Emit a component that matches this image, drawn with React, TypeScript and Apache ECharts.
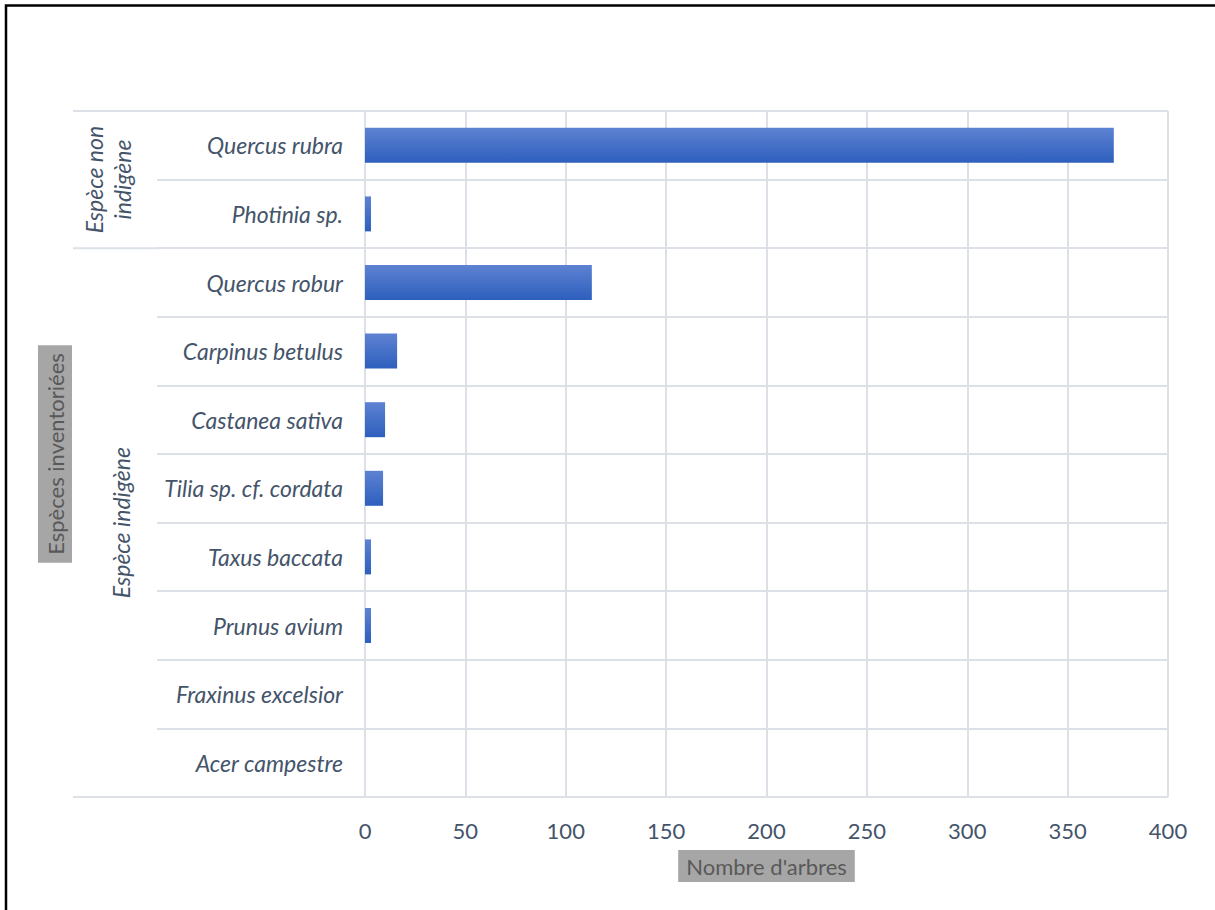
import React, { useEffect, useRef } from "react";
import * as echarts from "echarts";

const categories = [
  "Quercus rubra",
  "Photinia sp.",
  "Quercus robur",
  "Carpinus betulus",
  "Castanea sativa",
  "Tilia sp. cf. cordata",
  "Taxus baccata",
  "Prunus avium",
  "Fraxinus excelsior",
  "Acer campestre",
];
const counts = [373, 3, 113, 16, 10, 9, 3, 3, 0, 0];
const groupLabels = ["Espèce non\nindigène", "Espèce indigène"];
const groupStarts = [0, 2];
const groupEnds = [1, 9];
const xMin = 0;
const xMax = 400;
const xInterval = 50;
const xTitle = "Nombre d'arbres";
const yTitle = "Espèces inventoriées";

const FONT = "Lato, 'Open Sans', sans-serif";
const GRID_COLOR = "#dce1e8";
const LABEL_COLOR = "#44546a";

export default function App() {
  const ref = useRef<HTMLDivElement>(null);
  useEffect(() => {
    document.body.style.margin = "0";
    const chart = echarts.init(ref.current!, null, { renderer: "svg" });
    const option: any = {
      animation: false,
      backgroundColor: "#ffffff",
      grid: { left: 365, right: 47, top: 111, bottom: 113, containLabel: false },
      xAxis: {
        type: "value",
        min: xMin,
        max: xMax,
        interval: xInterval,
        axisLine: { show: false },
        axisTick: { show: false },
        axisLabel: { color: LABEL_COLOR, fontSize: 22, fontFamily: FONT, margin: 22 },
        splitLine: { show: true, lineStyle: { color: GRID_COLOR, width: 2 } },
        name: xTitle,
        nameLocation: "middle",
        nameGap: 53,
        nameTextStyle: {
          color: "#595959",
          fontSize: 22,
          fontFamily: FONT,
          backgroundColor: "#a6a6a6",
          padding: [5, 8, 5, 8],
          verticalAlign: "top",
        },
      },
      yAxis: {
        type: "category",
        data: categories,
        inverse: true,
        axisLine: { show: false },
        axisTick: {
          show: true,
          length: 208,
          lineStyle: { color: GRID_COLOR, width: 2 },
        },
        splitLine: { show: true, lineStyle: { color: GRID_COLOR, width: 2 } },
        axisLabel: {
          color: LABEL_COLOR,
          fontSize: 23,
          fontStyle: "italic",
          fontFamily: FONT,
          margin: 22,
        },
        name: yTitle,
        nameLocation: "middle",
        nameRotate: 90,
        nameGap: 293,
        nameTextStyle: {
          color: "#595959",
          fontSize: 22,
          fontFamily: FONT,
          backgroundColor: "#a6a6a6",
          padding: [6, 8, 6, 8],
        },
      },
      series: [
        {
          type: "bar",
          data: counts,
          barWidth: "51%",
          itemStyle: {
            color: new echarts.graphic.LinearGradient(0, 0, 0, 1, [
              { offset: 0, color: "#5e82d2" },
              { offset: 1, color: "#2d5fbd" },
            ]),
          },
        },
      ],
    };
    chart.setOption(option);

    const yA = chart.convertToPixel({ yAxisIndex: 0 }, categories[0]) as number;
    const yB = chart.convertToPixel({ yAxisIndex: 0 }, categories[1]) as number;
    const band = yB - yA;
    const edges = new Set<number>();
    const graphics: any[] = [];
    groupLabels.forEach((lab, i) => {
      const top = (chart.convertToPixel({ yAxisIndex: 0 }, categories[groupStarts[i]]) as number) - band / 2;
      const bot = (chart.convertToPixel({ yAxisIndex: 0 }, categories[groupEnds[i]]) as number) + band / 2;
      edges.add(Math.round(top * 10) / 10);
      edges.add(Math.round(bot * 10) / 10);
      graphics.push({
        type: "text",
        x: lab.includes("\n") ? 108 : 121,
        y: (top + bot) / 2,
        rotation: Math.PI / 2,
        style: {
          text: lab,
          fill: LABEL_COLOR,
          font: `italic 23px ${FONT}`,
          align: "center",
          verticalAlign: "middle",
          lineHeight: 28,
        },
      });
    });
    edges.forEach((y) => {
      graphics.push({
        type: "line",
        shape: { x1: 73, y1: y, x2: 158, y2: y },
        style: { stroke: GRID_COLOR, lineWidth: 2 },
      });
    });
    graphics.push({
      type: "rect",
      shape: { x: 6, y: 5.5, width: 1300, height: 1000 },
      style: { fill: "none", stroke: "#000000", lineWidth: 2.5 },
      silent: true,
    });
    chart.setOption({ graphic: graphics });
    return () => chart.dispose();
  }, []);
  return (
    <div
      ref={ref}
      style={{ position: "absolute", left: 0, top: 0, width: 1215, height: 910 }}
    />
  );
}
